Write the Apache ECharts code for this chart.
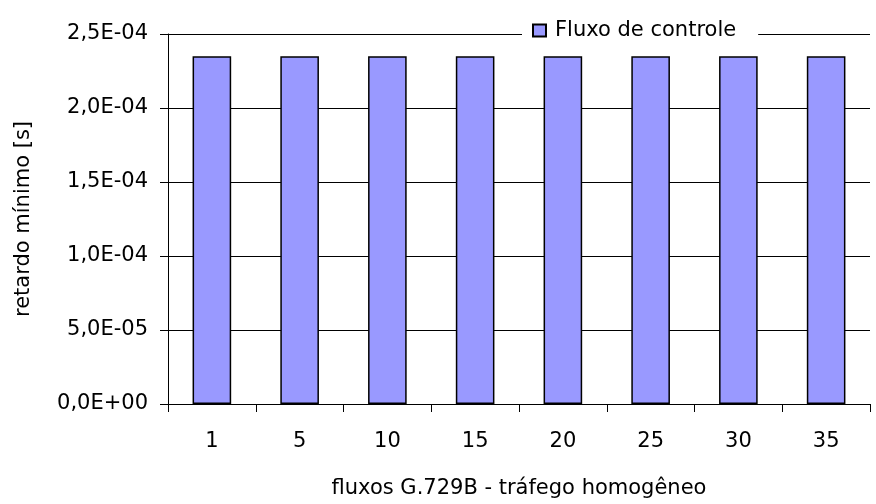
<!DOCTYPE html>
<html>
<head>
<meta charset="utf-8">
<script src="https://cdn.jsdelivr.net/npm/echarts@6/dist/echarts.min.js"></script>
<style>
html,body{margin:0;padding:0;background:#fff;}
#main{width:876px;height:504px;}
</style>
</head>
<body>
<div id="main"></div>
<script>
var categorias = ['1', '5', '10', '15', '20', '25', '30', '35'];
var retardo = [2.35e-4, 2.35e-4, 2.35e-4, 2.35e-4, 2.35e-4, 2.35e-4, 2.35e-4, 2.35e-4];
var nomeSerie = 'Fluxo de controle';

// 2.5e-4 -> "2,5E-04"
function formatE(v) {
	var s = v.toExponential(1).split('e');
	var exp = parseInt(s[1], 10);
	var sign = exp < 0 ? '-' : '+';
	var e = Math.abs(exp);
	return s[0].replace('.', ',') + 'E' + sign + (e < 10 ? '0' + e : e);
}

var myChart = echarts.init(document.getElementById('main'));
var fonte = 'DejaVu Sans, Liberation Sans, Arial, sans-serif';
var option = {
	backgroundColor: '#fff',
	animation: false,
	textStyle: { fontFamily: fonte },
	legend: {
		data: [{ name: nomeSerie, icon: 'rect' }],
		left: 522,
		top: 18,
		itemWidth: 13,
		itemHeight: 12,
		itemGap: 6,
		padding: [2, 22, 2, 10],
		backgroundColor: '#fff',
		textStyle: { fontSize: 21, color: '#000', fontFamily: fonte, padding: [0, 0, 0, 4] }
	},
	grid: {
		left: 168,
		right: 6,
		top: 34,
		bottom: 96
	},
	xAxis: {
		type: 'category',
		data: categorias,
		name: 'fluxos G.729B - tráfego homogêneo',
		nameLocation: 'middle',
		nameGap: 74,
		nameTextStyle: { fontSize: 21, color: '#000' },
		axisLine: { lineStyle: { color: '#000', width: 1 } },
		axisTick: { show: true, length: 8, alignWithLabel: false, lineStyle: { color: '#000' } },
		axisLabel: { fontSize: 21, color: '#000', margin: 27 },
		splitLine: { show: false }
	},
	yAxis: {
		type: 'value',
		min: 0,
		max: 2.5e-4,
		interval: 5e-5,
		name: 'retardo mínimo [s]',
		nameLocation: 'middle',
		nameGap: 134,
		nameTextStyle: { fontSize: 21, color: '#000' },
		axisLine: { show: true, lineStyle: { color: '#000', width: 1 } },
		axisTick: { show: true, length: 8, inside: false, lineStyle: { color: '#000' } },
		axisLabel: { fontSize: 21, color: '#000', margin: 20, formatter: formatE },
		splitLine: { show: true, lineStyle: { color: '#000', width: 1 } }
	},
	series: [{
		name: nomeSerie,
		type: 'bar',
		data: retardo,
		barWidth: '44%',
		itemStyle: { color: '#9999FF', borderColor: '#000', borderWidth: 1.5 }
	}]
};
myChart.setOption(option);
</script>
</body>
</html>
